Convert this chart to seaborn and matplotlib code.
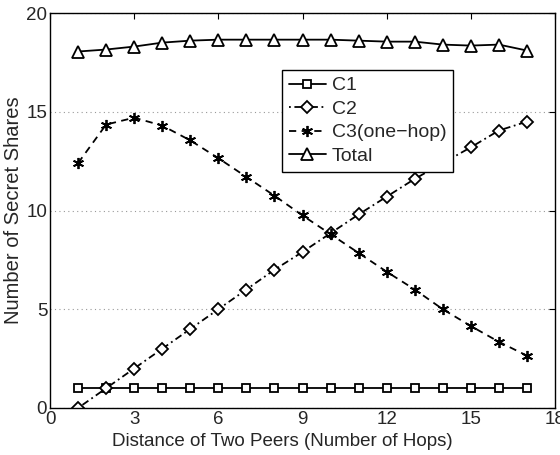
import matplotlib
matplotlib.use("Agg")
import matplotlib.pyplot as plt
import seaborn as sns
import pandas as pd

hops = list(range(1, 18))
c1 = [1] * 17
c2 = [0, 1, 2, 3, 4, 5, 6, 7, 7.9, 8.85, 9.8, 10.7, 11.6, 12.4, 13.2, 14.05, 14.5]
c3 = [12.4, 14.35, 14.7, 14.3, 13.55, 12.65, 11.7, 10.75, 9.75, 8.8, 7.85, 6.9, 6.0, 5.0, 4.15, 3.35, 2.65]
total = [18.05, 18.15, 18.3, 18.5, 18.6, 18.65, 18.65, 18.65, 18.65, 18.65, 18.6, 18.55, 18.55, 18.4, 18.35, 18.4, 18.1]

sns.set_style("white")
plt.rcParams['font.family'] = ['Liberation Sans', 'DejaVu Sans']

fig = plt.figure(figsize=(5.6, 4.55), dpi=100)
ax = fig.add_axes([50/560, 1-408/455, 505/560, 395/455])

df = pd.DataFrame({"hops": hops, "C1": c1, "C2": c2, "C3": c3, "Total": total})
styles = [
    ("C1", "C1", "-", "s", 5.5),
    ("C2", "C2", (0, (1, 2, 4, 2)), "D", 6),
    ("C3", "C3(one\u2212hop)", (0, (4, 3)), (6, 2, 0), 8),
    ("Total", "Total", "-", "^", 8),
]
for col, lab, ls, mk, ms in styles:
    sns.lineplot(data=df, x="hops", y=col, ax=ax, color="black", linestyle=ls,
                 marker=mk, markersize=ms, markerfacecolor="white" if mk != (6, 2, 0) else "black",
                 markeredgecolor="black", markeredgewidth=1.3, linewidth=1.3, label=lab)

ax.set_xlim(0, 18)
ax.set_ylim(0, 20)
ax.set_xticks([0, 3, 6, 9, 12, 15, 18])
ax.set_yticks([0, 5, 10, 15, 20])
ax.yaxis.grid(True, linestyle=(0, (1, 3)), color="#999999", linewidth=0.8)
ax.xaxis.grid(False)
ax.tick_params(direction="in", top=True, right=True, length=4, labelsize=13.5, color="black", pad=2)
for s in ax.spines.values():
    s.set_color("black")
    s.set_linewidth(1.0)
ax.set_xlabel("Distance of Two Peers (Number of Hops)", fontsize=13.5)
ax.xaxis.set_label_coords(0.461, -0.064)
ax.set_ylabel("Number of Secret Shares", fontsize=14.5, labelpad=2)

leg = ax.legend(loc="upper left", bbox_to_anchor=((282-50)/505, (408-70)/395),
                frameon=True, fancybox=False, edgecolor="black", fontsize=14,
                handlelength=1.9, handletextpad=0.3, borderpad=0.35, labelspacing=0.3,
                borderaxespad=0, framealpha=1)
leg.get_frame().set_linewidth(1.0)

fig.savefig("out.png", dpi=100)
